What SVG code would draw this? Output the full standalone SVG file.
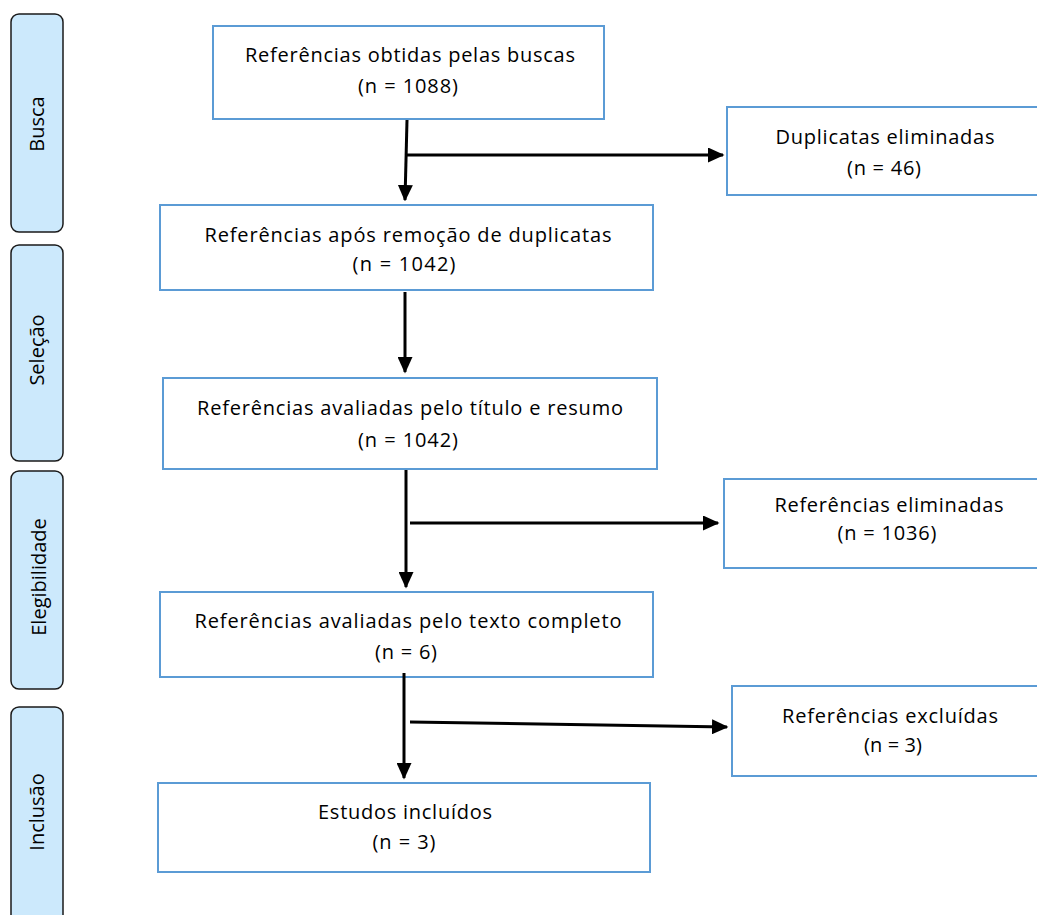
<svg xmlns="http://www.w3.org/2000/svg" width="1037" height="915" viewBox="0 0 1037 915">
<style>
.bg{fill:#ffffff}
.phase{fill:#cce9fc;stroke:#1a1a1a;stroke-width:1.5}
.box{fill:#ffffff;stroke:#5b9bd5;stroke-width:2}
.t{font-family:"Open Sans","Liberation Sans",Arial,sans-serif;font-size:20px;fill:#000;text-anchor:middle}
.pt{font-family:"Open Sans","Liberation Sans",Arial,sans-serif;font-size:20px;fill:#000;text-anchor:middle}
.c{fill:none;stroke:#000;stroke-width:3}
</style>
<defs>
<marker id="ah" markerWidth="5.5" markerHeight="5" refX="5" refY="2.5" orient="auto" markerUnits="strokeWidth">
<path d="M0,0 L5.5,2.5 L0,5 Z" fill="#000"/>
</marker>
</defs>
<rect class="bg" x="0" y="0" width="1037" height="915"/>

<g id="phase-busca">
<rect class="phase" x="11" y="14" width="52" height="218" rx="8"/>
<text class="pt" transform="translate(44,124) rotate(-90)">Busca</text>
</g>
<g id="phase-selecao">
<rect class="phase" x="11" y="245" width="52" height="216" rx="8"/>
<text class="pt" transform="translate(44,350) rotate(-90)">Seleção</text>
</g>
<g id="phase-elegibilidade">
<rect class="phase" x="11" y="471" width="52" height="218" rx="8"/>
<text class="pt" transform="translate(46,577) rotate(-90)">Elegibilidade</text>
</g>
<g id="phase-inclusao">
<rect class="phase" x="11" y="707" width="52" height="220" rx="8"/>
<text class="pt" transform="translate(44,812) rotate(-90)">Inclusão</text>
</g>

<g id="n-obtidas">
<rect class="box" x="213" y="26" width="391" height="93"/>
<text class="t" x="410" y="62" textLength="330" lengthAdjust="spacing">Referências obtidas pelas buscas</text>
<text class="t" x="408" y="93" textLength="100" lengthAdjust="spacing">(n = 1088)</text>
</g>
<g id="n-duplicatas">
<rect class="box" x="727" y="107" width="320" height="88"/>
<text class="t" x="885" y="144" textLength="219" lengthAdjust="spacing">Duplicatas eliminadas</text>
<text class="t" x="884" y="175" textLength="74" lengthAdjust="spacing">(n = 46)</text>
</g>
<g id="n-apos-remocao">
<rect class="box" x="160" y="205" width="493" height="85"/>
<text class="t" x="408" y="242" textLength="407" lengthAdjust="spacing">Referências após remoção de duplicatas</text>
<text class="t" x="404" y="271" textLength="103" lengthAdjust="spacing">(n = 1042)</text>
</g>
<g id="n-titulo-resumo">
<rect class="box" x="163" y="378" width="494" height="91"/>
<text class="t" x="410" y="415" textLength="426" lengthAdjust="spacing">Referências avaliadas pelo título e resumo</text>
<text class="t" x="408" y="447" textLength="100" lengthAdjust="spacing">(n = 1042)</text>
</g>
<g id="n-eliminadas">
<rect class="box" x="724" y="479" width="323" height="89"/>
<text class="t" x="889" y="512" textLength="229" lengthAdjust="spacing">Referências eliminadas</text>
<text class="t" x="887" y="540" textLength="99" lengthAdjust="spacing">(n = 1036)</text>
</g>
<g id="n-texto-completo">
<rect class="box" x="160" y="592" width="493" height="85"/>
<text class="t" x="408" y="628" textLength="427" lengthAdjust="spacing">Referências avaliadas pelo texto completo</text>
<text class="t" x="406" y="659" textLength="62" lengthAdjust="spacing">(n = 6)</text>
</g>
<g id="n-excluidas">
<rect class="box" x="732" y="686" width="315" height="90"/>
<text class="t" x="890" y="723" textLength="216" lengthAdjust="spacing">Referências excluídas</text>
<text class="t" x="893" y="752" textLength="58" lengthAdjust="spacing">(n = 3)</text>
</g>
<g id="n-incluidos">
<rect class="box" x="158" y="783" width="492" height="89"/>
<text class="t" x="405" y="819" textLength="174" lengthAdjust="spacing">Estudos incluídos</text>
<text class="t" x="404" y="849" textLength="63" lengthAdjust="spacing">(n = 3)</text>
</g>

<g id="connectors">
<path class="c" d="M407,120 L405,200" marker-end="url(#ah)"/>
<path class="c" d="M406,155 L723,155" marker-end="url(#ah)"/>
<path class="c" d="M405,292 L405,372" marker-end="url(#ah)"/>
<path class="c" d="M406,470 L406,587" marker-end="url(#ah)"/>
<path class="c" d="M410,523 L718,523" marker-end="url(#ah)"/>
<path class="c" d="M404,673 L404,778" marker-end="url(#ah)"/>
<path class="c" d="M410,722 L727,727" marker-end="url(#ah)"/>
</g>
</svg>
